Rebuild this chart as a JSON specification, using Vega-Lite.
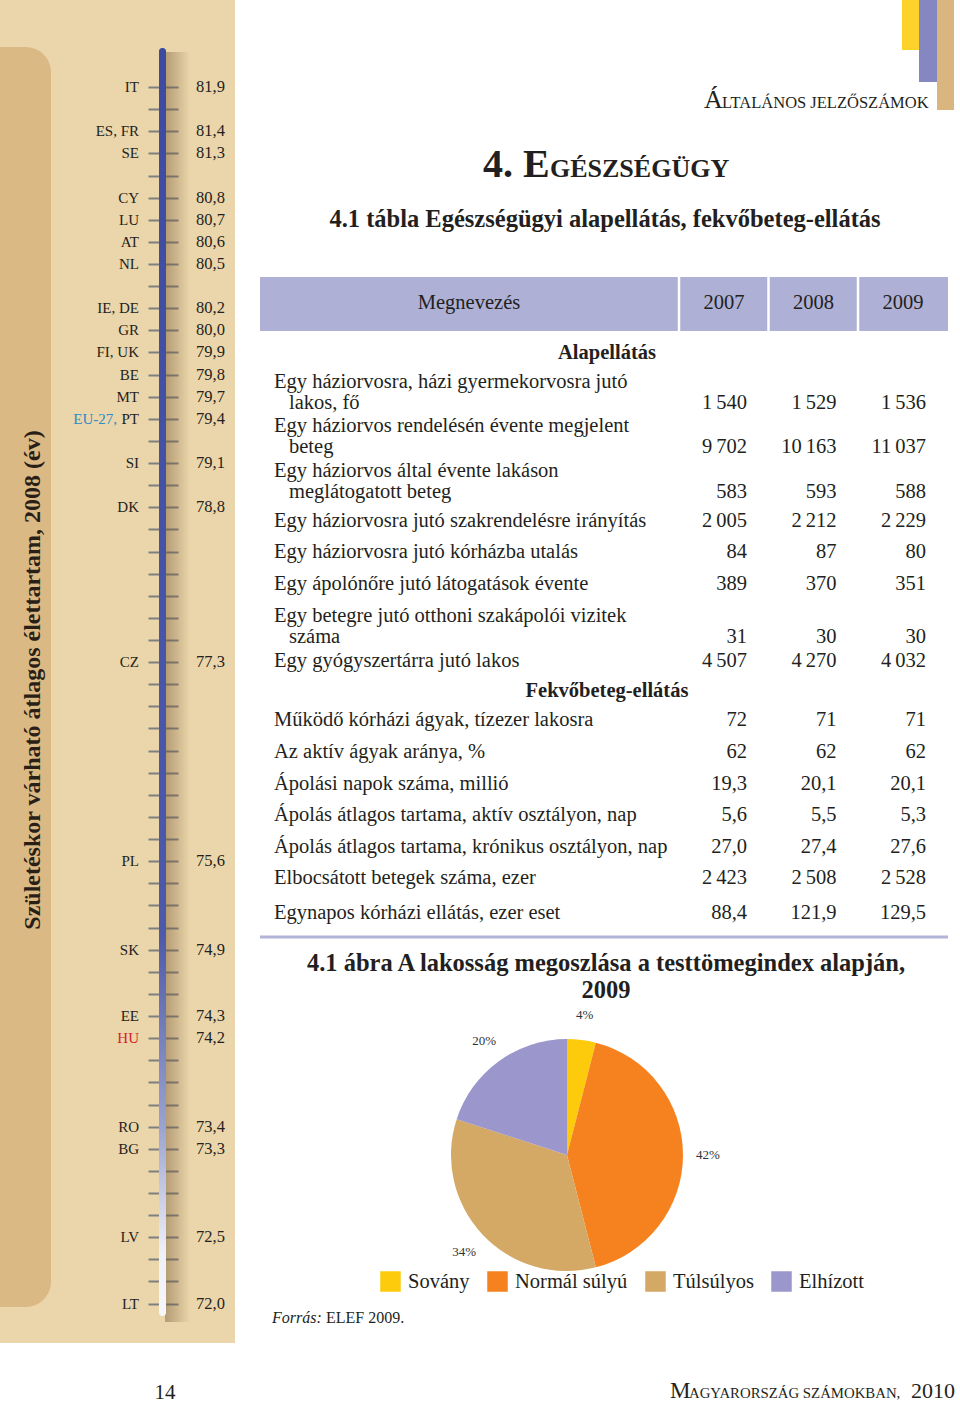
{
"$schema":"https://vega.github.io/schema/vega-lite/v6.json",
"width":960,"height":1404,
"autosize":{"type":"fit","contains":"padding"},
"padding":0,
"background":"#ebd5aa",
"config":{"view":{"stroke":null},"font":"Liberation Serif","text":{"font":"Liberation Serif"},"locale":{"number":{"decimal":",","thousands":"\u2009","grouping":[3],"currency":["",""]}}},
"datasets":{
"life":[{"country":"IT","e":81.9},{"country":"ES, FR","e":81.4},{"country":"SE","e":81.3},{"country":"CY","e":80.8},{"country":"LU","e":80.7},{"country":"AT","e":80.6},{"country":"NL","e":80.5},{"country":"IE, DE","e":80.2},{"country":"GR","e":80.0},{"country":"FI, UK","e":79.9},{"country":"BE","e":79.8},{"country":"MT","e":79.7},{"country":"EU-27, PT","e":79.4},{"country":"SI","e":79.1},{"country":"DK","e":78.8},{"country":"CZ","e":77.3},{"country":"PL","e":75.6},{"country":"SK","e":74.9},{"country":"EE","e":74.3},{"country":"HU","e":74.2},{"country":"RO","e":73.4},{"country":"BG","e":73.3},{"country":"LV","e":72.5},{"country":"LT","e":72.0}],
"table":[
{"r":0,"kind":"section","name":"Alapellátás"},
{"r":1,"kind":"row","name":"Egy háziorvosra, házi gyermekorvosra jutó","name2":"lakos, fő","2007":1540,"2008":1529,"2009":1536,"d":0},
{"r":2,"kind":"row","name":"Egy háziorvos rendelésén évente megjelent","name2":"beteg","2007":9702,"2008":10163,"2009":11037,"d":0},
{"r":3,"kind":"row","name":"Egy háziorvos által évente lakáson","name2":"meglátogatott beteg","2007":583,"2008":593,"2009":588,"d":0},
{"r":4,"kind":"row","name":"Egy háziorvosra jutó szakrendelésre irányítás","2007":2005,"2008":2212,"2009":2229,"d":0},
{"r":5,"kind":"row","name":"Egy háziorvosra jutó kórházba utalás","2007":84,"2008":87,"2009":80,"d":0},
{"r":6,"kind":"row","name":"Egy ápolónőre jutó látogatások évente","2007":389,"2008":370,"2009":351,"d":0},
{"r":7,"kind":"row","name":"Egy betegre jutó otthoni szakápolói vizitek","name2":"száma","2007":31,"2008":30,"2009":30,"d":0},
{"r":8,"kind":"row","name":"Egy gyógyszertárra jutó lakos","2007":4507,"2008":4270,"2009":4032,"d":0},
{"r":9,"kind":"section","name":"Fekvőbeteg-ellátás"},
{"r":10,"kind":"row","name":"Működő kórházi ágyak, tízezer lakosra","2007":72,"2008":71,"2009":71,"d":0},
{"r":11,"kind":"row","name":"Az aktív ágyak aránya, %","2007":62,"2008":62,"2009":62,"d":0},
{"r":12,"kind":"row","name":"Ápolási napok száma, millió","2007":19.3,"2008":20.1,"2009":20.1,"d":1},
{"r":13,"kind":"row","name":"Ápolás átlagos tartama, aktív osztályon, nap","2007":5.6,"2008":5.5,"2009":5.3,"d":1},
{"r":14,"kind":"row","name":"Ápolás átlagos tartama, krónikus osztályon, nap","2007":27.0,"2008":27.4,"2009":27.6,"d":1},
{"r":15,"kind":"row","name":"Elbocsátott betegek száma, ezer","2007":2423,"2008":2508,"2009":2528,"d":0},
{"r":16,"kind":"row","name":"Egynapos kórházi ellátás, ezer eset","2007":88.4,"2008":121.9,"2009":129.5,"d":1}
],
"years":[{"year":"2007"},{"year":"2008"},{"year":"2009"}],
"bmi":[{"cat":"Sovány","pct":4,"k":1},{"cat":"Normál súlyú","pct":42,"k":2},{"cat":"Túlsúlyos","pct":34,"k":3},{"cat":"Elhízott","pct":20,"k":4}]
},
"resolve":{"scale":{"x":"independent","y":"independent","theta":"independent"},"axis":{"x":"independent","y":"independent"}},
"layer":[
{"data":{"values":[{}]},"mark":{"type":"rect","fill":"#ffffff"},"encoding":{"x":{"value":235},"x2":{"value":960},"y":{"value":0},"y2":{"value":1404}}},
{"data":{"values":[{}]},"mark":{"type":"rect","fill":"#ffffff"},"encoding":{"x":{"value":0},"x2":{"value":235},"y":{"value":1343},"y2":{"value":1404}}},
{"data":{"values":[{}]},"mark":{"type":"rect","fill":"#dbb985","cornerRadiusTopRight":48,"cornerRadiusBottomRight":55},"encoding":{"x":{"value":0},"x2":{"value":51},"y":{"value":47},"y2":{"value":1307}}},
{"data":{"values":[{}]},"mark":{"type":"rect","fill":{"gradient":"linear","x1":0,"y1":0,"x2":1,"y2":0,"stops":[{"offset":0,"color":"rgba(110,85,50,0.45)"},{"offset":1,"color":"rgba(110,85,50,0)"}]}},"encoding":{"x":{"value":165},"x2":{"value":190},"y":{"value":52},"y2":{"value":1322}}},
{"data":{"values":[{}]},"mark":{"type":"rect","cornerRadius":3,"fill":{"gradient":"linear","x1":0,"y1":0,"x2":0,"y2":1,"stops":[{"offset":0,"color":"#3d4a9e"},{"offset":0.7,"color":"#4e5aa8"},{"offset":0.85,"color":"#9aa2d0"},{"offset":0.95,"color":"#eef0f7"},{"offset":1,"color":"#f7f7fa"}]}},"encoding":{"x":{"value":159},"x2":{"value":166},"y":{"value":48},"y2":{"value":1316}}},
{"data":{"values":[{}]},"mark":{"type":"rect","fill":"#fdd22a"},"encoding":{"x":{"value":902},"x2":{"value":919},"y":{"value":0},"y2":{"value":50}}},
{"data":{"values":[{}]},"mark":{"type":"rect","fill":"#8487c0"},"encoding":{"x":{"value":919},"x2":{"value":937},"y":{"value":0},"y2":{"value":82}}},
{"data":{"values":[{}]},"mark":{"type":"rect","fill":"#d9b67f"},"encoding":{"x":{"value":937},"x2":{"value":954},"y":{"value":0},"y2":{"value":110}}},
{"data":{"values":[{}]},"mark":{"type":"rect","fill":"#aeb0d5"},"encoding":{"x":{"value":260},"x2":{"value":948},"y":{"value":277},"y2":{"value":331}}},
{"data":{"values":[{}]},"mark":{"type":"rule","color":"#b1b3d7","strokeWidth":3},"encoding":{"x":{"value":260},"x2":{"value":948},"y":{"value":937}}},
{"data":{"values":[{"t":"Születéskor várható átlagos élettartam, 2008 (év)"}]},"mark":{"type":"text","angle":270,"align":"center","baseline":"middle","fontSize":24,"fontWeight":"bold","color":"#2a1f16"},"encoding":{"x":{"value":33},"y":{"value":680},"text":{"field":"t"}}},
{
"data":{"name":"life"},
"encoding":{"y":{"field":"e","type":"quantitative","scale":{"type":"linear","zero":false,"nice":false,"domain":[72.0,72.5,73.3,73.4,74.2,74.3,74.9,75.6,77.3,78.8,79.1,79.4,79.7,79.8,79.9,80.0,80.2,80.5,80.6,80.7,80.8,81.3,81.4,81.9],"range":[1303.6,1237.2,1148.8,1126.6,1038.2,1016,949.7,861.2,662.1,507.3,463,418.8,396.7,374.6,352.4,330.3,308.2,264,241.8,219.7,197.6,153.4,131.2,87]},
"axis":{"orient":"left","offset":-178,"values":[72.0,72.16667,72.33333,72.5,72.7,72.9,73.1,73.3,73.4,73.6,73.8,74.0,74.2,74.3,74.5,74.7,74.9,75.075,75.25,75.425,75.6,75.78889,75.97778,76.16667,76.35556,76.54444,76.73333,76.92222,77.11111,77.3,77.51429,77.72857,77.94286,78.15714,78.37143,78.58571,78.8,78.95,79.1,79.25,79.4,79.7,79.8,79.9,80.0,80.2,80.35,80.5,80.6,80.7,80.8,81.05,81.3,81.4,81.65,81.9],"tickSize":30,"tickColor":"#7f7f7f","tickWidth":2,"domain":false,"labels":false,"title":null,"grid":false,"zindex":0}}},
"layer":[
{"transform":[{"filter":"indexof(datum.country, 'EU-27') < 0"}],"mark":{"type":"text","align":"right","baseline":"middle","fontSize":15},"encoding":{"x":{"value":139},"text":{"field":"country"},"color":{"condition":{"test":"datum.country === 'HU'","value":"#d2232a"},"value":"#231f20"}}},
{"transform":[{"filter":"indexof(datum.country, 'EU-27') >= 0"},{"calculate":"split(datum.country, ', ')[1]","as":"b"}],"mark":{"type":"text","align":"right","baseline":"middle","fontSize":15,"color":"#231f20"},"encoding":{"x":{"value":139},"text":{"field":"b"}}},
{"transform":[{"filter":"indexof(datum.country, 'EU-27') >= 0"},{"calculate":"split(datum.country, ', ')[0] + ','","as":"a"}],"mark":{"type":"text","align":"right","baseline":"middle","fontSize":15,"color":"#2b8cc4","dx":-22},"encoding":{"x":{"value":139},"text":{"field":"a"}}},
{"mark":{"type":"text","align":"left","baseline":"middle","fontSize":16.5,"color":"#231f20"},"encoding":{"x":{"value":196},"text":{"field":"e","type":"quantitative","format":".1f"}}}
]
},
{"data":{"values":[{"t":"Á"}]},"mark":{"type":"text","align":"left","baseline":"alphabetic","fontSize":26,"color":"#231f20"},"encoding":{"x":{"value":704},"y":{"value":108},"text":{"field":"t"}}},
{"data":{"values":[{"t":"LTALÁNOS JELZŐSZÁMOK"}]},"mark":{"type":"text","align":"left","baseline":"alphabetic","fontSize":16.5,"color":"#231f20"},"encoding":{"x":{"value":722},"y":{"value":108},"text":{"field":"t"}}},
{"data":{"values":[{"t":"4. E"}]},"mark":{"type":"text","align":"left","baseline":"alphabetic","fontSize":40,"fontWeight":"bold","color":"#231f20"},"encoding":{"x":{"value":483},"y":{"value":177},"text":{"field":"t"}}},
{"data":{"values":[{"t":"GÉSZSÉGÜGY"}]},"mark":{"type":"text","align":"left","baseline":"alphabetic","fontSize":26,"fontWeight":"bold","color":"#231f20"},"encoding":{"x":{"value":550},"y":{"value":177},"text":{"field":"t"}}},
{"data":{"values":[{"t":"4.1  tábla Egészségügyi alapellátás, fekvőbeteg-ellátás"}]},"mark":{"type":"text","align":"center","baseline":"middle","fontSize":24.5,"fontWeight":"bold","color":"#231f20"},"encoding":{"x":{"value":605},"y":{"value":220},"text":{"field":"t"}}},
{"data":{"values":[{"t":"Megnevezés"}]},"mark":{"type":"text","align":"center","baseline":"middle","fontSize":20.5,"color":"#231f20"},"encoding":{"x":{"value":469},"y":{"value":303},"text":{"field":"t"}}},
{
"data":{"name":"table"},
"layer":[
{"data":{"name":"years"},"mark":{"type":"rule","color":"#ffffff","strokeWidth":2.5,"xOffset":-68},"encoding":{"x":{"field":"year","type":"nominal","scale":{"type":"point","domain":["2007","2008","2009"],"range":[747,926],"padding":0},"axis":null},"y":{"value":277},"y2":{"value":331}}},
{"data":{"name":"years"},"mark":{"type":"text","align":"center","baseline":"middle","fontSize":20.5,"dx":-23,"color":"#231f20"},"encoding":{"x":{"field":"year","type":"nominal","scale":{"type":"point","domain":["2007","2008","2009"],"range":[747,926],"padding":0},"axis":null},"y":{"value":303},"text":{"field":"year"}}},
{"transform":[{"filter":"datum.kind === 'row' && !isValid(datum.name2)"}],"mark":{"type":"text","align":"left","baseline":"bottom","fontSize":20.5,"dy":10,"color":"#231f20"},"encoding":{"x":{"value":274},"y":{"field":"r","type":"quantitative","scale":{"type":"linear","zero":false,"nice":false,"domain":[0,1,2,3,4,5,6,7,8,9,10,11,12,13,14,15,16],"range":[353,403,447,492,521,552,584,637,661,691,720,752,784,815,847,878,913]},"axis":null},"text":{"field":"name"}}},
{"transform":[{"filter":"datum.kind === 'row' && isValid(datum.name2)"}],"mark":{"type":"text","align":"left","baseline":"bottom","fontSize":20.5,"dy":-11.5,"color":"#231f20"},"encoding":{"x":{"value":274},"y":{"field":"r","type":"quantitative","scale":{"type":"linear","zero":false,"nice":false,"domain":[0,1,2,3,4,5,6,7,8,9,10,11,12,13,14,15,16],"range":[353,403,447,492,521,552,584,637,661,691,720,752,784,815,847,878,913]},"axis":null},"text":{"field":"name"}}},
{"transform":[{"filter":"datum.kind === 'row' && isValid(datum.name2)"}],"mark":{"type":"text","align":"left","baseline":"bottom","fontSize":20.5,"dy":10,"dx":15,"color":"#231f20"},"encoding":{"x":{"value":274},"y":{"field":"r","type":"quantitative","scale":{"type":"linear","zero":false,"nice":false,"domain":[0,1,2,3,4,5,6,7,8,9,10,11,12,13,14,15,16],"range":[353,403,447,492,521,552,584,637,661,691,720,752,784,815,847,878,913]},"axis":null},"text":{"field":"name2"}}},
{"transform":[{"filter":"datum.kind === 'section'"}],"mark":{"type":"text","align":"center","baseline":"bottom","fontSize":20.5,"fontWeight":"bold","dy":10,"color":"#231f20"},"encoding":{"x":{"value":607},"y":{"field":"r","type":"quantitative","scale":{"type":"linear","zero":false,"nice":false,"domain":[0,1,2,3,4,5,6,7,8,9,10,11,12,13,14,15,16],"range":[353,403,447,492,521,552,584,637,661,691,720,752,784,815,847,878,913]},"axis":null},"text":{"field":"name"}}},
{"transform":[{"filter":"datum.kind === 'row' && datum.d === 0"},{"fold":["2007","2008","2009"],"as":["year","v"]}],"mark":{"type":"text","align":"right","baseline":"bottom","fontSize":20.5,"dy":10,"color":"#231f20"},"encoding":{"x":{"field":"year","type":"nominal","scale":{"type":"point","domain":["2007","2008","2009"],"range":[747,926],"padding":0},"axis":null},"y":{"field":"r","type":"quantitative","scale":{"type":"linear","zero":false,"nice":false,"domain":[0,1,2,3,4,5,6,7,8,9,10,11,12,13,14,15,16],"range":[353,403,447,492,521,552,584,637,661,691,720,752,784,815,847,878,913]},"axis":null},"text":{"field":"v","type":"quantitative","format":",.0f"}}},
{"transform":[{"filter":"datum.kind === 'row' && datum.d === 1"},{"fold":["2007","2008","2009"],"as":["year","v"]}],"mark":{"type":"text","align":"right","baseline":"bottom","fontSize":20.5,"dy":10,"color":"#231f20"},"encoding":{"x":{"field":"year","type":"nominal","scale":{"type":"point","domain":["2007","2008","2009"],"range":[747,926],"padding":0},"axis":null},"y":{"field":"r","type":"quantitative","scale":{"type":"linear","zero":false,"nice":false,"domain":[0,1,2,3,4,5,6,7,8,9,10,11,12,13,14,15,16],"range":[353,403,447,492,521,552,584,637,661,691,720,752,784,815,847,878,913]},"axis":null},"text":{"field":"v","type":"quantitative","format":",.1f"}}}
]
},
{"data":{"values":[{"t":"4.1 ábra A lakosság megoszlása a testtömegindex alapján,\n2009"}]},"mark":{"type":"text","align":"center","baseline":"alphabetic","fontSize":24.5,"fontWeight":"bold","lineBreak":"\n","lineHeight":27,"color":"#231f20"},"encoding":{"x":{"value":606},"y":{"value":971},"text":{"field":"t"}}},
{
"data":{"name":"bmi"},
"encoding":{"theta":{"field":"pct","type":"quantitative","stack":true},"order":{"field":"k","type":"quantitative"},"x":{"value":567},"y":{"value":1155}},
"layer":[
{"mark":{"type":"arc","outerRadius":116},"encoding":{"color":{"field":"cat","type":"nominal","scale":{"domain":["Sovány","Normál súlyú","Túlsúlyos","Elhízott"],"range":["#fdcb0c","#f5821f","#d4a865","#9b96cb"]},"legend":{"orient":"none","legendX":380,"legendY":1271,"direction":"horizontal","title":null,"symbolType":"square","symbolSize":420,"symbolStrokeWidth":0,"symbolOpacity":1,"labelFont":"Liberation Serif","labelFontSize":20.5,"labelColor":"#231f20","columnPadding":17,"labelOffset":7,"padding":0}}}},
{"transform":[{"calculate":"datum.pct + '%'","as":"lbl"}],"mark":{"type":"text","radius":141,"fontSize":13,"color":"#333333","baseline":"middle","align":"center"},"encoding":{"text":{"field":"lbl"},"detail":{"field":"cat"}}}
]
},
{"data":{"values":[{"t":"Forrás:"}]},"mark":{"type":"text","align":"left","baseline":"alphabetic","fontSize":16,"fontStyle":"italic","color":"#231f20"},"encoding":{"x":{"value":272},"y":{"value":1323},"text":{"field":"t"}}},
{"data":{"values":[{"t":"ELEF 2009."}]},"mark":{"type":"text","align":"left","baseline":"alphabetic","fontSize":16,"color":"#231f20"},"encoding":{"x":{"value":326},"y":{"value":1323},"text":{"field":"t"}}},
{"data":{"values":[{"t":"14"}]},"mark":{"type":"text","align":"center","baseline":"alphabetic","fontSize":21,"color":"#231f20"},"encoding":{"x":{"value":165},"y":{"value":1399},"text":{"field":"t"}}},
{"data":{"values":[{"t":"M"}]},"mark":{"type":"text","align":"left","baseline":"alphabetic","fontSize":23,"color":"#231f20"},"encoding":{"x":{"value":670},"y":{"value":1398},"text":{"field":"t"}}},
{"data":{"values":[{"t":"AGYARORSZÁG SZÁMOKBAN,"}]},"mark":{"type":"text","align":"left","baseline":"alphabetic","fontSize":14.8,"color":"#231f20"},"encoding":{"x":{"value":689},"y":{"value":1398},"text":{"field":"t"}}},
{"data":{"values":[{"t":"2010"}]},"mark":{"type":"text","align":"right","baseline":"alphabetic","fontSize":22,"color":"#231f20"},"encoding":{"x":{"value":955},"y":{"value":1398},"text":{"field":"t"}}}
]
}
